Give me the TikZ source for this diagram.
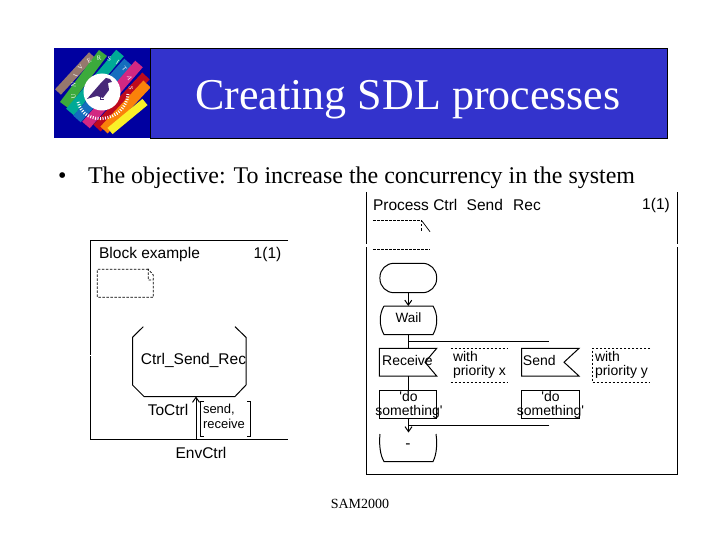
\documentclass[tikz,border=0pt]{standalone}
\usepackage{fontspec}
\setmainfont{Liberation Serif}
\newfontfamily\diag{Liberation Sans}
\usetikzlibrary{arrows.meta,decorations.text}
\definecolor{logobg}{HTML}{0000A0}
\definecolor{titlebg}{HTML}{3333CC}
\tikzset{
  x=1pt,y=-1pt,
  every node/.style={inner sep=0pt,outer sep=0pt},
  ln/.style={draw=black,line width=1pt},
  dsh/.style={draw=black,line width=0.7pt,dash pattern=on 2.5pt off 1.5pt},
  lbl/.style={font=\diag\fontsize{15.5}{17}\selectfont,text=black},
  sml/.style={font=\diag\fontsize{14}{15}\selectfont,text=black},
  box/.style={draw=black,line width=1pt,minimum width=57.4pt,minimum height=28pt},
  plain/.style={minimum width=57pt,minimum height=28.4pt},
  arr/.style={ln,-{Straight Barb[length=5pt,width=7pt]}},
  bar/.style={line width=10pt},
}
\begin{document}
\begin{tikzpicture}
\useasboundingbox (0,0) rectangle (720,540);
\fill[white] (0,0) rectangle (720,540);
% logo
\fill[logobg] (54,48) rectangle (150,138);
\draw[bar,line width=8pt,color={rgb,255:red,150;green,120;blue,110}] (58,92) -- (92,55);
\draw[bar,color={rgb,255:red,60;green,170;blue,60}] (64,105) -- (103,53);
\draw[bar,color={rgb,255:red,0;green,170;blue,150}] (70,112) -- (120,53);
\draw[bar,color={rgb,255:red,20;green,110;blue,190}] (77,119) -- (128,62);
\draw[bar,color={rgb,255:red,210;green,40;blue,130}] (86,125) -- (139,64);
\draw[bar,color={rgb,255:red,190;green,10;blue,30}] (97,128) -- (146,76);
\draw[bar,color={rgb,255:red,250;green,130;blue,10}] (104,130) -- (147,84);
\draw[bar,line width=8pt,color={rgb,255:red,250;green,240;blue,40}] (110,131) -- (145,102);
\fill[white] (102,92) circle[radius=18.5];
\path[postaction={decorate,decoration={text along path,
   text={|\fontsize{6.5}{7}\selectfont\color{white}|UNIVERSITAS},text align={fit to path}}}]
   (76,98) .. controls (68,50) and (130,48) .. (129,90);
\draw[white,line width=3pt,dash pattern=on 1pt off 1.5pt] (128,94) .. controls (126,122) and (84,128) .. (78,102);
\fill[color={rgb,255:red,70;green,40;blue,120}] (110,79) -- (106,78) -- (100,84) -- (87,99) -- (97,96) -- (103,98) -- (109,90) -- (108,83) -- (112,82) -- cycle;
\draw[color={rgb,255:red,70;green,40;blue,120},line width=1pt] (100,97) -- (100,100) -- (104,100);
% title
\node[draw=black,line width=0.9pt,fill=titlebg,minimum width=517pt,minimum height=90pt,anchor=north west] (title) at (150,48) {};
\node[anchor=center,text=white,font=\fontsize{44}{48}\selectfont] (titletext) at (408,100) {Creating SDL processes};
\node[anchor=base west,font=\fontsize{24}{28}\selectfont,text=black] (bullet) at (58,184) {•};
\node[anchor=base west,font=\fontsize{23.95}{28}\selectfont,text=black] (obj) at (88,184) {The objective: To increase the concurrency in the system};
\node[anchor=center,font=\fontsize{14}{16}\selectfont,text=black] (foot) at (360,504) {SAM2000};
% left block
\draw[ln] (288,240.5) -- (90.5,240.5) -- (90.5,439.5) -- (288,439.5);
\fill[white] (88,354.5) rectangle (93,356);
\node[lbl,anchor=center] (bl) at (149.5,254.5) {Block example};
\node[lbl,anchor=center] (bp) at (267.5,254.5) {1(1)};
\draw[dsh] (148.3,269.3) -- (97.3,269.3) -- (97.3,297.3) -- (153.3,297.3) -- (153.3,275) -- (148.3,269.3) -- (148.3,280) -- (153.3,280);
\coordinate (blockS) at (196,396.5);
\coordinate (envS) at (196,439.5);
\draw[ln] (143.3,326.7) -- (132.5,337.3) -- (132.5,385) -- (144,396.5) -- (235,396.5) -- (246,385) -- (246,337.3) -- (235,326.7);
\node[lbl,anchor=center] (csr) at (193.5,360.5) {Ctrl\_Send\_Rec};
\draw[arr] (envS) -- (blockS);
\node[lbl,anchor=center] (toc) at (168,410) {ToCtrl};
\draw[ln,line width=0.7pt] (204,401.7) -- (200,401.7) -- (200,436.7) -- (204,436.7);
\draw[ln,line width=0.7pt] (247,401.7) -- (250.7,401.7) -- (250.7,436.7) -- (247,436.7);
\node[sml,anchor=west,font=\diag\fontsize{13}{15}\selectfont] (s1) at (203,410) {send,};
\node[sml,anchor=west,font=\diag\fontsize{13}{15}\selectfont] (s2) at (203,424) {receive};
\node[lbl,anchor=center] (env) at (201,452.5) {EnvCtrl};
% right process
\draw[ln] (366.5,192) -- (366.5,474.5) -- (677.5,474.5) -- (677.5,192);
\fill[white] (364,244) rectangle (369,246.5);
\fill[white] (675,244) rectangle (680,246.5);
\node[lbl,anchor=west] (pr) at (373,205) {Process Ctrl\hspace{5pt} Send\hspace{6pt} Rec};
\node[lbl,anchor=center] (pp) at (656,205) {1(1)};
\draw[dsh] (373,220.7) -- (421.7,220.7) -- (421.7,231.7);
\draw[line width=0.7pt] (421.7,220.7) -- (430,231.7);
\draw[dsh] (373,249.3) -- (430,249.3);
\node[box,rounded corners=14pt,minimum width=56.7pt,minimum height=29.4pt] (start) at (408.3,278) {};
\node[plain] (wail) at (408.3,320.2) {};
\draw[ln] (384,306) -- (433,306) .. controls (438,314) and (438,326) .. (433,334.5) -- (384,334.5) .. controls (379,326) and (379,314) .. (384,306);
\node[lbl,anchor=center,font=\diag\fontsize{13.5}{15}\selectfont] (wt) at (408.5,318) {Wail};
\draw[arr] (start) -- (wail);
\coordinate (fork) at (408.5,341.5);
\coordinate (forkE) at (549.3,341.5);
\draw[ln] (wail.south -| fork) -- (fork) -- (forkE);
% receive
\node[plain,minimum height=27.7pt,minimum width=57.4pt] (rc) at (408,362.2) {};
\draw[ln] (rc.north east) -- (rc.north west) -- (rc.south west) -- (rc.south east) -- (425,362.2) -- cycle;
\node[sml,anchor=center] (rct) at (407.5,360.5) {Receive};
\draw[ln] (fork) -- (rc.north -| fork);
\node[plain,minimum height=27.7pt,minimum width=57.4pt] (sd) at (550.3,362.2) {};
\draw[ln] (sd.north east) -- (sd.north west) -- (sd.south west) -- (sd.south east) -- (564,362.2) -- cycle;
\node[sml,anchor=center] (sdt) at (539.3,360.5) {Send};
% comments
\draw[dsh] (450.7,348.3) -- (508.3,348.3);
\draw[dsh] (450.7,382.3) -- (508.3,382.3);
\node[sml,anchor=west] (w1) at (453,356.5) {with};
\node[sml,anchor=west] (w2) at (453,371.5) {priority x};
\draw[dsh] (650,348.3) -- (592.3,348.3) -- (592.3,382.3) -- (650,382.3);
\node[sml,anchor=west] (y1) at (595,356.5) {with};
\node[sml,anchor=west] (y2) at (595,371.5) {priority y};
% tasks
\node[box] (t1) at (408,404.3) {};
\node[box] (t2) at (550.3,404.3) {};
\draw[ln] (rc.south -| fork) -- (t1.north -| fork);
\node[sml,anchor=center] (t1a) at (408.5,396.7) {'do};
\node[sml,anchor=center] (t1b) at (409,412.3) {something'};
\node[sml,anchor=center] (t2a) at (550.5,396.7) {'do};
\node[sml,anchor=center] (t2b) at (550.5,412.3) {something'};
% end state
\node[plain,minimum height=29pt] (fin) at (408.3,447) {};
\draw[ln] (380,434) .. controls (379,444) and (380,455) .. (384,461.5) -- (433,461.5) .. controls (436.5,455) and (437.5,444) .. (436,434);
\node[lbl,anchor=center] (fint) at (408,446) {-};
\coordinate (merge) at (408.5,425.5);
\coordinate (mergeE) at (549.3,425.5);
\draw[ln] (mergeE) -- (merge);
\draw[arr] (t1.south -| merge) -- (fin.north -| merge);
\end{tikzpicture}
\end{document}
